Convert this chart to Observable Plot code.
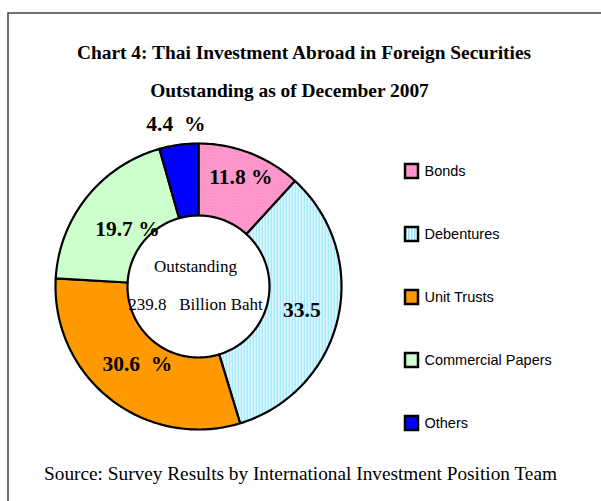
<!DOCTYPE html>
<html>
<head>
<meta charset="utf-8">
<script src="https://cdn.jsdelivr.net/npm/d3@7"></script>
<script src="https://cdn.jsdelivr.net/npm/@observablehq/plot@0.6"></script>
<style>
  html, body { margin: 0; padding: 0; background: #fff; }
  #wrap { width: 601px; height: 501px; overflow: hidden; position: relative; }
  #wrap svg text { white-space: pre; }
</style>
</head>
<body>
<div id="wrap"></div>
<script>
// ---- data ----
const categories = ["Bonds", "Debentures", "Unit Trusts", "Commercial Papers", "Others"];
const shares = [11.8, 33.5, 30.6, 19.7, 4.4];
const sliceLabels = ["11.8 %", "33.5", "30.6  %", "19.7 %", "4.4  %"];
const titleText = "Chart 4: Thai Investment Abroad in Foreign Securities";
const subtitleText = "Outstanding as of December 2007";
const centerLines = ["Outstanding", "239.8   Billion Baht"];
const sourceText = "Source: Survey Results by International Investment Position Team";

// ---- layout / style ----
const W = 601, H = 501;
const cx = 198, cy = 286, rOut = 143, rIn = 71;
const labelRadius = [117, 106, 99, 91, 164];
const fills = ["url(#pBonds)", "url(#pDeb)", "#ff9900", "#ccffcc", "#0000ff"];

// slices via d3.pie (clockwise from 12 o'clock)
const arcs = d3.pie().sort(null).value(d => d)(shares);
const polyPts = [];
arcs.forEach((a, i) => {
  const n = Math.max(8, Math.ceil((a.endAngle - a.startAngle) * 60));
  for (let k = 0; k <= n; k++) {
    const t = a.startAngle + (a.endAngle - a.startAngle) * k / n;
    polyPts.push({cat: categories[i], x: cx + rOut * Math.sin(t), y: cy - rOut * Math.cos(t)});
  }
  for (let k = n; k >= 0; k--) {
    const t = a.startAngle + (a.endAngle - a.startAngle) * k / n;
    polyPts.push({cat: categories[i], x: cx + rIn * Math.sin(t), y: cy - rIn * Math.cos(t)});
  }
});
const labelData = arcs.map((a, i) => {
  const m = (a.startAngle + a.endAngle) / 2;
  return {text: sliceLabels[i], x: cx + labelRadius[i] * Math.sin(m), y: cy - labelRadius[i] * Math.cos(m)};
});
const legendData = categories.map((c, i) => ({cat: c, y: 171 + i * 63}));

const serif = "'Liberation Serif', 'Times New Roman', serif";
const sans = "'Liberation Sans', Arial, sans-serif";

const plot = Plot.plot({
  width: W, height: H,
  margin: 0,
  x: {domain: [0, W], range: [0, W], axis: null},
  y: {domain: [0, H], range: [0, H], axis: null},
  color: {domain: categories, range: fills},
  style: {background: "white", overflow: "hidden"},
  marks: [
    // outer frame (partly off-canvas, as in the reference)
    Plot.rect([0], {x1: 8, y1: 13, x2: 700, y2: 700, fill: "none", stroke: "#444", strokeWidth: 1.5}),
    // donut slices
    Plot.line(polyPts, {x: "x", y: "y", z: "cat", fill: "cat", stroke: "black", strokeWidth: 2.2, curve: "linear-closed", strokeLinejoin: "round"}),
    // slice labels
    Plot.text(labelData, {x: "x", y: "y", text: "text", fontFamily: serif, fontWeight: "bold", fontSize: 21.5, fill: "black", lineAnchor: "middle"}),
    // centre text
    Plot.text([centerLines[0]], {x: cx - 3, y: 271, text: d => d, fontFamily: serif, fontSize: 17, fill: "black", lineAnchor: "bottom"}),
    Plot.text([centerLines[1]], {x: cx - 3, y: 309, text: d => d, fontFamily: serif, fontSize: 17, fill: "black", lineAnchor: "bottom"}),
    // title
    Plot.text([titleText], {x: 303.5, y: 58, text: d => d, fontFamily: serif, fontWeight: "bold", fontSize: 19.4, fill: "black", lineAnchor: "bottom"}),
    Plot.text([subtitleText], {x: 289, y: 96, text: d => d, fontFamily: serif, fontWeight: "bold", fontSize: 19.4, fill: "black", lineAnchor: "bottom"}),
    // legend
    Plot.rect(legendData, {x1: 405, x2: 418, y1: d => d.y - 7, y2: d => d.y + 7, fill: "cat", stroke: "black", strokeWidth: 2.5}),
    Plot.text(legendData, {x: 424, y: "y", text: "cat", textAnchor: "start", fontFamily: sans, fontSize: 14.5, fill: "black", lineAnchor: "middle", letterSpacing: "-0.3px"}),
    // source
    Plot.text([sourceText], {x: 300, y: 479, text: d => d, fontFamily: serif, fontSize: 19.3, fill: "black", lineAnchor: "bottom"})
  ]
});

// patterns for textured slices
const ns = "http://www.w3.org/2000/svg";
const defs = document.createElementNS(ns, "defs");
defs.innerHTML = `
  <pattern id="pBonds" patternUnits="userSpaceOnUse" width="3" height="3">
    <rect width="3" height="3" fill="#ff99cc"/>
    <rect x="1" y="1" width="1" height="1" fill="#ee82b8"/>
  </pattern>
  <pattern id="pDeb" patternUnits="userSpaceOnUse" width="3" height="3">
    <rect width="3" height="3" fill="#ffffff"/>
    <rect x="0" y="0" width="1.6" height="3" fill="#8fe4ff"/>
  </pattern>`;
plot.insertBefore(defs, plot.firstChild);
document.getElementById("wrap").appendChild(plot);
</script>
</body>
</html>
